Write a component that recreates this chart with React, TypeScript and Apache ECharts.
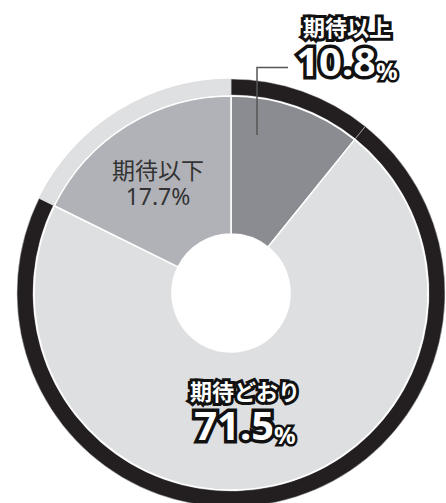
import React, { useEffect, useRef } from "react";
import * as echarts from "echarts";

const categories = ["期待以上", "期待どおり", "期待以下"];
const values = [10.8, 71.5, 17.7];
const sliceColors = ["#8b8c91", "#dedfe1", "#b0b2b7"];
const ringColors = ["#231f20", "#231f20", "#dfe0e2"];

const FONT = "Noto Sans CJK JP";
const NUMFONT = "Noto Sans";

export default function App() {
  const ref = useRef<HTMLDivElement>(null);
  useEffect(() => {
    if (!ref.current) return;
    const chart = echarts.init(ref.current, null, { renderer: "svg" });
    const cx = 231;
    const cy = 293;
    const labelPos: Record<number, [number, number]> = {
      0: [347, 48],
      1: [245, 412],
      2: [158, 182],
    };
    const boldRich = {
      name: {
        fontFamily: FONT,
        fontSize: 22,
        fontWeight: "bold",
        color: "#ffffff",
        textBorderColor: "#111111",
        textBorderWidth: 6,
        lineHeight: 25,
      },
      val: {
        fontFamily: NUMFONT,
        fontSize: 40,
        fontWeight: "bold",
        color: "#ffffff",
        textBorderColor: "#111111",
        textBorderWidth: 7,
        lineHeight: 44,
      },
      pct: {
        fontFamily: NUMFONT,
        fontSize: 24,
        fontWeight: "bold",
        color: "#ffffff",
        textBorderColor: "#111111",
        textBorderWidth: 5,
        lineHeight: 44,
        verticalAlign: "bottom",
      },
    };
    const plainRich = {
      name: {
        fontFamily: FONT,
        fontSize: 23,
        fontWeight: "normal",
        color: "#333333",
        lineHeight: 27,
      },
      val: {
        fontFamily: NUMFONT,
        fontSize: 23,
        fontWeight: "normal",
        color: "#333333",
        lineHeight: 27,
      },
      pct: {
        fontFamily: NUMFONT,
        fontSize: 23,
        fontWeight: "normal",
        color: "#333333",
        lineHeight: 27,
      },
    };
    chart.setOption({
      animation: false,
      backgroundColor: "#ffffff",
      graphic: [
        {
          type: "polyline",
          shape: {
            points: [
              [257, 135],
              [257, 67.5],
              [288, 67.5],
            ],
          },
          style: { stroke: "#555555", lineWidth: 1.5, fill: null },
          z: 100,
        },
      ],
      series: [
        {
          type: "pie",
          center: [cx, cy],
          radius: [198, 214],
          startAngle: 90,
          clockwise: true,
          silent: true,
          label: { show: false },
          labelLine: { show: false },
          itemStyle: { borderColor: "#d0d0d0", borderWidth: 0.5 },
          data: categories.map((name, i) => ({
            name,
            value: values[i],
            itemStyle: { color: ringColors[i] },
          })),
        },
        {
          type: "pie",
          center: [cx, cy],
          radius: [59, 197],
          startAngle: 90,
          clockwise: true,
          silent: true,
          itemStyle: { borderColor: "#ffffff", borderWidth: 1.5 },
          labelLine: { show: false },
          label: {
            show: true,
            position: "inside",
            fontFamily: FONT,
            formatter: (p: any) => `{name|${p.name}}\n{val|${p.value}}{pct|%}`,
          },
          labelLayout: (p: any) => {
            const pos = labelPos[p.dataIndex];
            return { x: pos[0], y: pos[1], align: "center", verticalAlign: "middle" };
          },
          data: categories.map((name, i) => ({
            name,
            value: values[i],
            itemStyle: { color: sliceColors[i] },
            label: {
              rich: i === 2 ? plainRich : boldRich,
              align: "center",
            },
          })),
        },
      ],
    });
    return () => chart.dispose();
  }, []);
  return (
    <div
      ref={ref}
      style={{ position: "fixed", left: 0, top: 0, width: 446, height: 503 }}
    />
  );
}
